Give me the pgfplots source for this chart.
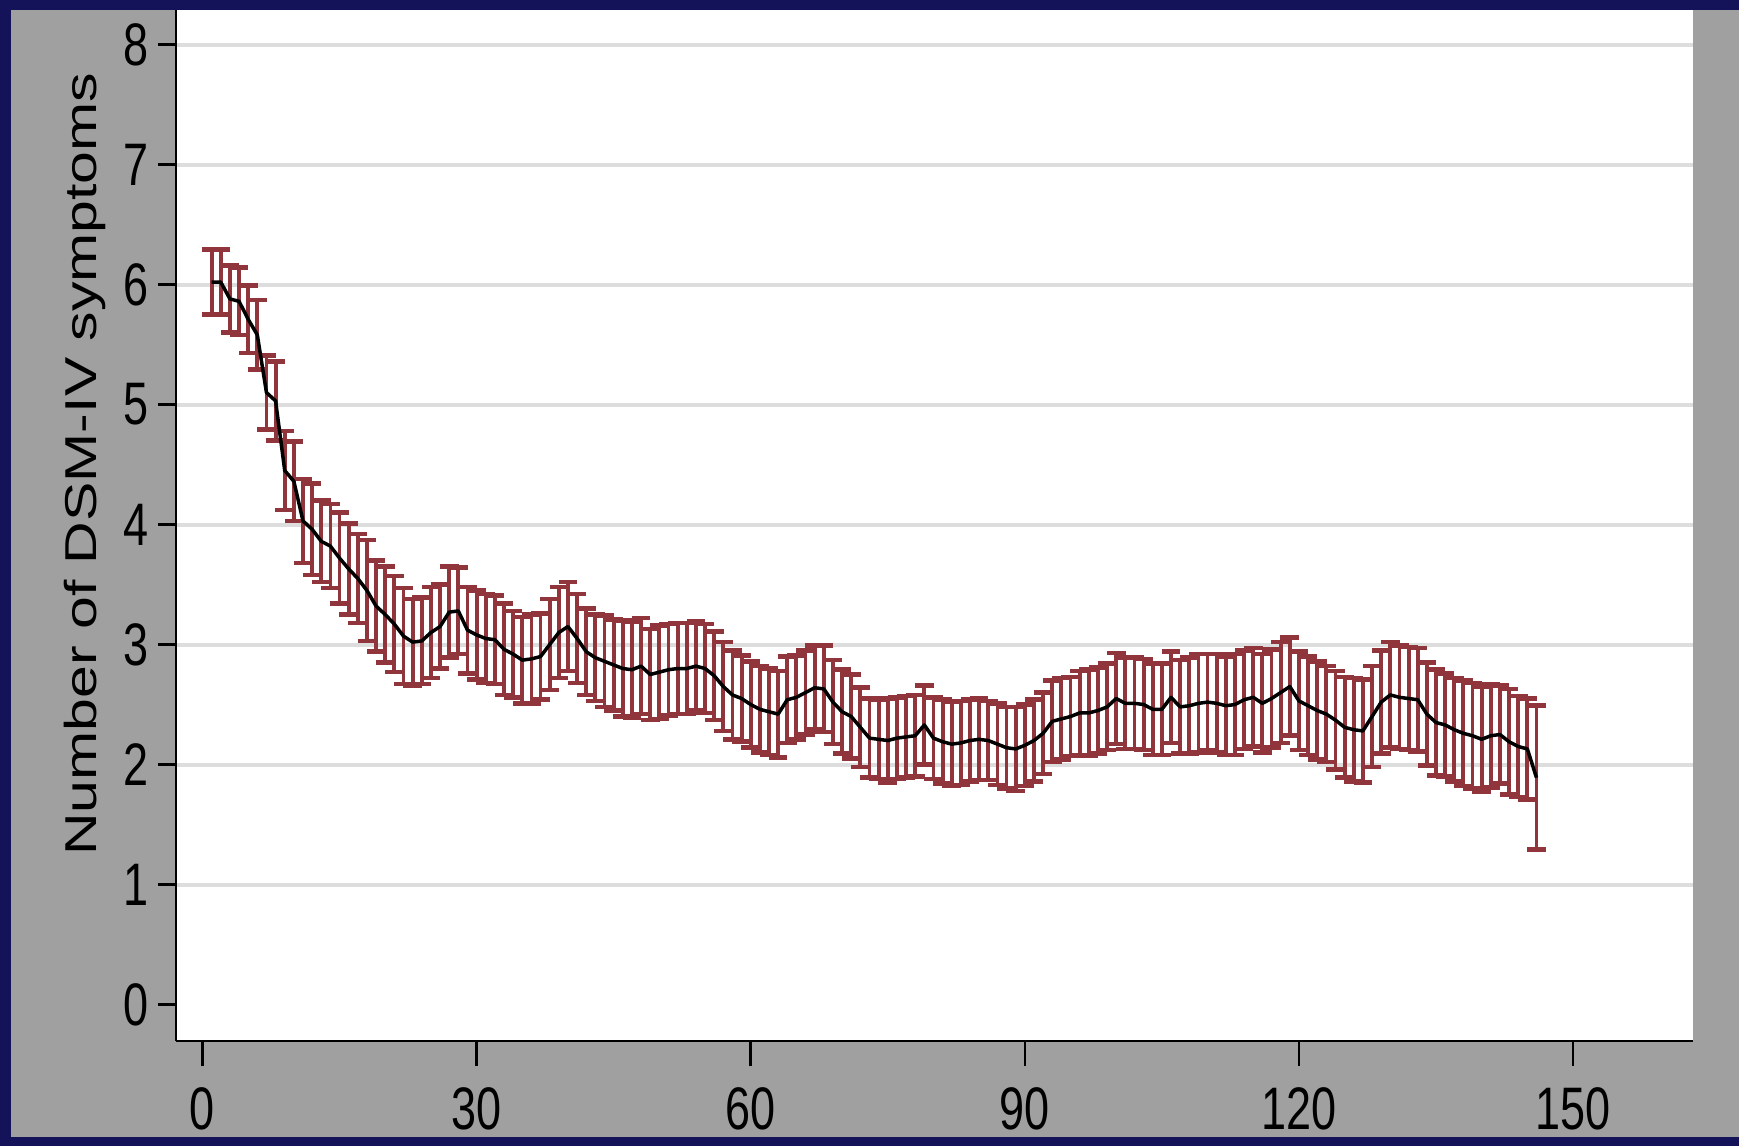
\documentclass[border=0pt]{standalone}
\usepackage{pgfplots}
\pgfplotsset{compat=1.18}
\usepackage{pgfplotstable}
\usepackage{fontspec}
\setmainfont{Liberation Sans}
\newfontfamily\tickfont{Liberation Sans}[FakeStretch=0.75]
\newfontfamily\labelfont{Liberation Sans}[FakeStretch=1.32]

\definecolor{frame}{RGB}{20,18,88}
\definecolor{panel}{RGB}{160,160,160}
\definecolor{gridgray}{RGB}{221,221,221}
\definecolor{ci}{RGB}{144,53,59}

% visit, mean symptom count, half-width of the 95% interval
\pgfplotstableread{
x m e
1 6.02 0.27
2 6.02 0.27
3 5.88 0.28
4 5.86 0.28
5 5.71 0.28
6 5.58 0.29
7 5.10 0.31
8 5.03 0.33
9 4.45 0.33
10 4.36 0.33
11 4.03 0.35
12 3.96 0.38
13 3.86 0.34
14 3.82 0.35
15 3.72 0.38
16 3.63 0.38
17 3.55 0.37
18 3.45 0.42
19 3.32 0.38
20 3.25 0.40
21 3.17 0.40
22 3.07 0.40
23 3.02 0.36
24 3.03 0.36
25 3.10 0.38
26 3.15 0.35
27 3.27 0.38
28 3.28 0.36
29 3.12 0.36
30 3.08 0.37
31 3.05 0.37
32 3.04 0.37
33 2.96 0.38
34 2.92 0.36
35 2.87 0.36
36 2.88 0.37
37 2.90 0.36
38 3.00 0.38
39 3.10 0.38
40 3.15 0.37
41 3.05 0.37
42 2.94 0.36
43 2.89 0.36
44 2.86 0.38
45 2.83 0.38
46 2.80 0.40
47 2.79 0.40
48 2.82 0.40
49 2.75 0.38
50 2.77 0.39
51 2.79 0.38
52 2.80 0.38
53 2.80 0.38
54 2.82 0.37
55 2.80 0.37
56 2.74 0.37
57 2.65 0.37
58 2.58 0.37
59 2.55 0.36
60 2.50 0.36
61 2.46 0.36
62 2.44 0.36
63 2.42 0.36
64 2.54 0.36
65 2.56 0.35
66 2.60 0.35
67 2.64 0.35
68 2.63 0.36
69 2.52 0.35
70 2.44 0.35
71 2.40 0.35
72 2.31 0.33
73 2.22 0.33
74 2.21 0.33
75 2.20 0.35
76 2.22 0.34
77 2.23 0.34
78 2.24 0.34
79 2.33 0.33
80 2.22 0.34
81 2.19 0.35
82 2.17 0.35
83 2.18 0.35
84 2.20 0.34
85 2.21 0.34
86 2.20 0.33
87 2.17 0.34
88 2.14 0.34
89 2.13 0.35
90 2.16 0.34
91 2.20 0.34
92 2.26 0.34
93 2.36 0.34
94 2.38 0.34
95 2.40 0.33
96 2.43 0.35
97 2.43 0.36
98 2.45 0.36
99 2.48 0.36
100 2.55 0.38
101 2.51 0.38
102 2.51 0.38
103 2.50 0.38
104 2.46 0.38
105 2.46 0.38
106 2.56 0.38
107 2.48 0.39
108 2.49 0.40
109 2.51 0.41
110 2.52 0.40
111 2.51 0.41
112 2.49 0.41
113 2.50 0.42
114 2.54 0.41
115 2.56 0.41
116 2.51 0.41
117 2.55 0.41
118 2.60 0.42
119 2.65 0.41
120 2.53 0.41
121 2.49 0.41
122 2.45 0.41
123 2.42 0.40
124 2.37 0.41
125 2.31 0.42
126 2.29 0.43
127 2.28 0.43
128 2.40 0.42
129 2.52 0.43
130 2.58 0.44
131 2.56 0.43
132 2.55 0.43
133 2.54 0.43
134 2.42 0.43
135 2.35 0.44
136 2.33 0.43
137 2.29 0.43
138 2.26 0.44
139 2.24 0.44
140 2.21 0.44
141 2.24 0.43
142 2.25 0.41
143 2.19 0.44
144 2.15 0.42
145 2.13 0.42
146 1.89 0.60
}\symptoms

\begin{document}
\begin{tikzpicture}
\path[use as bounding box] (0,0) rectangle (521.7pt,343.8pt);
\fill[frame] (0,0) rectangle (521.7pt,343.8pt);
\fill[panel] (3.3pt,2.7pt) rectangle (521.7pt,340.8pt);
\begin{axis}[
  at={(52.8pt,31.5pt)}, anchor=south west,
  scale only axis, width=455.1pt, height=309.3pt,
  xmin=-2.9, xmax=163.13, ymin=-0.304, ymax=8.2875,
  axis background/.style={fill=white},
  axis x line*=bottom, axis y line*=left,
  axis line style={-, black, line width=0.75pt},
  tick align=outside,
  tick style={black, line width=0.75pt},
  major tick length=5.4pt,
  minor tick num=0,
  xtick=\empty,
  extra x ticks={0,30,60,90,120,150},
  extra x tick style={major tick length=7.5pt, grid=none},
  ytick={1,...,8},
  extra y ticks={0},
  extra y tick style={grid=none},
  ymajorgrids,
  major grid style={gridgray, line width=1.2pt},
  /pgf/number format/assume math mode=true,
  ticklabel style={font=\tickfont\fontsize{18}{18}\selectfont, inner sep=0pt},
  xticklabel style={anchor=north},
  yticklabel style={anchor=east},
  xticklabel shift=6.3pt,
  yticklabel shift=2.55pt,
  ylabel={Number of DSM-IV symptoms},
  every axis y label/.style={at={(rel axis cs:-0.0521,0.5596)}, rotate=90, anchor=base,
    font=\labelfont\fontsize{13.4}{13.4}\selectfont},
  clip=false,
]
% 95% intervals as capped vertical bars
\addplot[draw=none, mark=none, forget plot,
  error bars/.cd, y dir=both, y explicit,
  error mark=|,
  error bar style={draw=ci, solid, line width=1.15pt},
  error mark options={draw=ci, solid, line width=1.4pt, mark size=2.8pt}]
  table[x=x, y=m, y error=e] {\symptoms};
% mean trajectory
\addplot[black, line width=1.05pt, mark=none, line join=round] table[x=x, y=m] {\symptoms};
\end{axis}
\end{tikzpicture}
\end{document}
